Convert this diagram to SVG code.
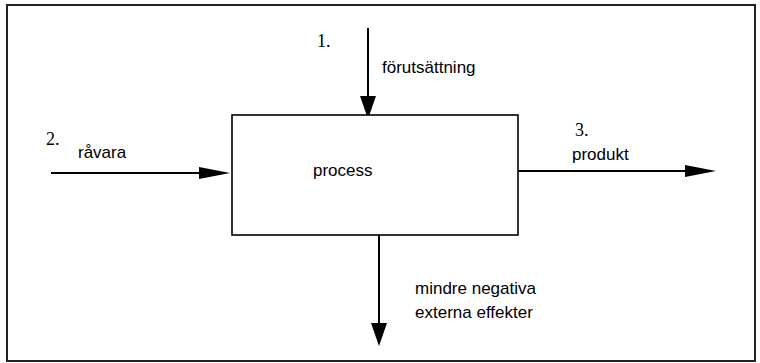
<svg xmlns="http://www.w3.org/2000/svg" width="760" height="363" viewBox="0 0 760 363">
  <style>
    .frame { fill: none; stroke: #222; stroke-width: 2; }
    .box { fill: #fff; stroke: #000; stroke-width: 1.6; }
    .flow { stroke: #000; stroke-width: 2; fill: none; }
    .lbl { font-family: "Liberation Sans", Arial, sans-serif; font-size: 17px; fill: #000; }
    .num { font-family: "Liberation Serif", "Times New Roman", serif; font-size: 18px; fill: #000; }
  </style>
  <defs>
    <!-- arrowheads start at the line end and point forward -->
    <marker id="headV" viewBox="0 0 23 16" refX="0" refY="8" markerWidth="23" markerHeight="16" markerUnits="userSpaceOnUse" orient="auto">
      <path d="M0,0 L23,8 L0,16 z" fill="#000"/>
    </marker>
    <marker id="headH" viewBox="0 0 31 12" refX="0" refY="6" markerWidth="31" markerHeight="12" markerUnits="userSpaceOnUse" orient="auto">
      <path d="M0,0 L31,6 L0,12 z" fill="#000"/>
    </marker>
  </defs>

  <rect class="frame" x="7" y="5" width="748" height="356"/>

  <g id="connectors">
    <line class="flow" x1="368" y1="28" x2="368" y2="96" marker-end="url(#headV)"/>
    <line class="flow" x1="51" y1="173" x2="199" y2="173" marker-end="url(#headH)"/>
    <line class="flow" x1="517" y1="171" x2="685" y2="171" marker-end="url(#headH)"/>
    <line class="flow" x1="379" y1="235" x2="379" y2="323" marker-end="url(#headV)"/>
  </g>

  <g id="process">
    <rect class="box" x="232" y="115" width="286" height="120"/>
    <text class="lbl" x="313" y="176">process</text>
  </g>

  <g id="forutsattning">
    <text class="num" x="317" y="47">1.</text>
    <text class="lbl" x="382" y="73">förutsättning</text>
  </g>

  <g id="ravara">
    <text class="num" x="46" y="145">2.</text>
    <text class="lbl" x="78" y="158">råvara</text>
  </g>

  <g id="produkt">
    <text class="num" x="575" y="136">3.</text>
    <text class="lbl" x="572" y="160">produkt</text>
  </g>

  <g id="externa-effekter">
    <text class="lbl" x="415" y="294">mindre negativa</text>
    <text class="lbl" x="415" y="318">externa effekter</text>
  </g>
</svg>
